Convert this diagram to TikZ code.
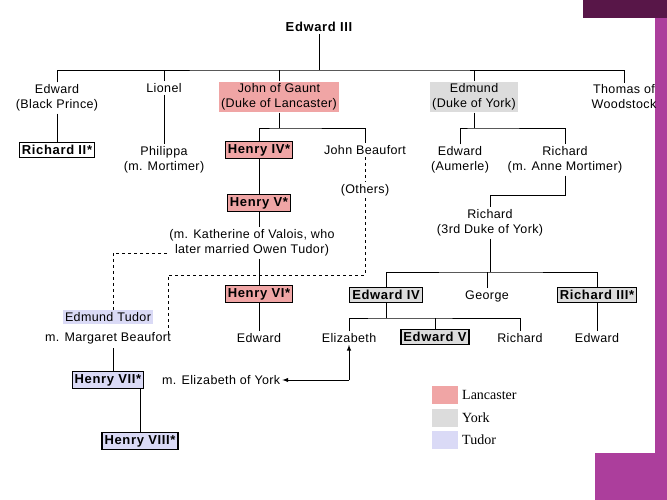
\documentclass[tikz,border=0pt]{standalone}
\usepackage{fontspec}
\setmainfont{Liberation Sans}
\newfontfamily\legendfont{Liberation Serif}
\newfontfamily\treefont[LetterSpace=3]{Liberation Sans}
\newfontfamily\kingfont[LetterSpace=5]{Liberation Sans}
\definecolor{lancpink}{RGB}{240,165,165}
\definecolor{yorkgrey}{RGB}{220,220,220}
\definecolor{tudorblue}{RGB}{218,218,246}
\definecolor{darkplum}{RGB}{88,22,72}
\definecolor{magplum}{RGB}{172,62,156}
\begin{document}
\begin{tikzpicture}[x=1pt,y=-1pt, every text node part/.style={align=center},
    every node/.style={font=\treefont\fontsize{12.5}{15}\selectfont, inner sep=2pt},
    king/.style={draw, line width=1.2pt, font=\kingfont\fontsize{13}{15}\selectfont\bfseries, inner sep=2.5pt},
    lanc/.style={fill=lancpink}, york/.style={fill=yorkgrey}, tudor/.style={fill=tudorblue},
    link/.style={line width=0.8pt}, dline/.style={line width=0.8pt, dashed}]
        \useasboundingbox (0,0) rectangle (667,500);
        \fill[white] (0,0) rectangle (667,500);
        \fill[darkplum] (583,0) rectangle (667,18);
        \fill[magplum] (655,18) rectangle (667,500);
        \fill[magplum] (595,453) rectangle (667,500);
        % generation 1 and 2
        \node[font=\kingfont\fontsize{13}{15}\selectfont\bfseries] (E3) at (319,27) {Edward III};
        \node (BP) at (57,98) {Edward\\(Black Prince)};
        \node (Lio) at (164,88) {Lionel};
        \node[lanc] (JG) at (279,97) {John of Gaunt\\(Duke of Lancaster)};
        \node[york] (Edm) at (474,97) {Edmund\\(Duke of York)};
        \node (Tho) at (624,97) {Thomas of\\Woodstock};
        \draw[link] (E3.south) -- (319,70);
        \draw[link] (BP.north) |- (319,70) -| (Tho.north);
        \draw[link] (Lio.north) -- (164,70);
        \draw[link] (JG.north) -- (279,70);
        \draw[link] (Edm.north) -- (474,70);
        % Lancaster side
        \node[king, fill=white] (R2) at (57,150) {Richard II*};
        \node (Phi) at (164,160) {Philippa\\(m. Mortimer)};
        \node[king, lanc] (H4) at (259,150) {Henry IV*};
        \node (JB) at (365,150) {John Beaufort};
        \node (Oth) at (365,190) {(Others)};
        \node[king, lanc] (H5) at (259,203) {Henry V*};
        \node (Kat) at (252,243) {(m. Katherine of Valois, who\\later married Owen Tudor)};
        \node[king, lanc] (H6) at (259,294) {Henry VI*};
        \node (E6) at (259,338) {Edward};
        \draw[link] (BP.south) -- (R2.north);
        \draw[link] (Lio.south) -- (Phi.north);
        \draw[link] (JG.south) -- (279,128);
        \draw[link] (H4.north) |- (279,128) -| (JB.north);
        \draw[link] (H4.south) -- (H5.north);
        \draw[link] (H5.south) -- (H5.south |- Kat.north);
        \draw[link] (H6.north |- Kat.south) -- (H6.north);
        \draw[link] (H6.south) -- (E6.north);
        \draw[dline] (JB.south) -- (Oth.north);
        % Tudor side
        \node[tudor] (ET) at (108,317) {Edmund Tudor};
        \node (MB) at (108,338) {m. Margaret Beaufort};
        \node[king, tudor] (H7) at (108,380) {Henry VII*};
        \node[anchor=west] (EoY) at (160,380) {m. Elizabeth of York};
        \node[king, tudor] (H8) at (140,441) {Henry VIII*};
        \draw[dline] ([yshift=-10pt]Kat.west) -| (113,257 |- ET.north);
        \draw[dline] (Oth.south) -- (365,275) -- (168,275) -- (168,334);
        \draw[link] (113,348) -- (113,348 |- H7.north);
        \draw[link] (H7.south -| H8.north) -- (H8.north);
        % York side
        \node (Aum) at (460,160) {Edward\\(Aumerle)};
        \node (RAM) at (565,160) {Richard\\(m. Anne Mortimer)};
        \node (R3D) at (490,223) {Richard\\(3rd Duke of York)};
        \node[king, york] (E4) at (386,295) {Edward IV};
        \node (Geo) at (487,296) {George};
        \node[king, york] (R3) at (597,295) {Richard III*};
        \node (Eliz) at (349,338) {Elizabeth};
        \node[king, york] (E5) at (435,337) {Edward V};
        \node (Ric) at (520,338) {Richard};
        \node (E7) at (597,338) {Edward};
        \draw[link] (Edm.south) -- (474,128);
        \draw[link] (Aum.north) |- (474,128) -| (RAM.north);
        \draw[link] (RAM.south) -- (565,195) -| (R3D.north);
        \draw[link] (R3D.south) -- (490,272);
        \draw[link] (E4.north) |- (490,272) -| (R3.north);
        \draw[link] (Geo.north) -- (487,272);
        \draw[link] (E4.south) -- (386,318);
        \draw[link] (Eliz.north) |- (386,318) -| (Ric.north);
        \draw[link] (E5.north) -- (435,318);
        \draw[link] (R3.south) -- (E7.north);
        \draw[line width=1pt, -latex] (349,380) -- (EoY.east);
        \draw[line width=1pt, -latex] (349,380) -- (Eliz.south);
        % legend
        \fill[lancpink] (432,386) rectangle (458,404);
        \fill[yorkgrey] (432,409) rectangle (458,427);
        \fill[tudorblue] (432,431) rectangle (458,449);
        \node[anchor=west, font=\legendfont\fontsize{14}{16}\selectfont] (lgL) at (460,395) {Lancaster};
        \node[anchor=west, font=\legendfont\fontsize{14}{16}\selectfont] (lgY) at (460,418) {York};
        \node[anchor=west, font=\legendfont\fontsize{14}{16}\selectfont] (lgT) at (460,440) {Tudor};
\end{tikzpicture}
\end{document}
